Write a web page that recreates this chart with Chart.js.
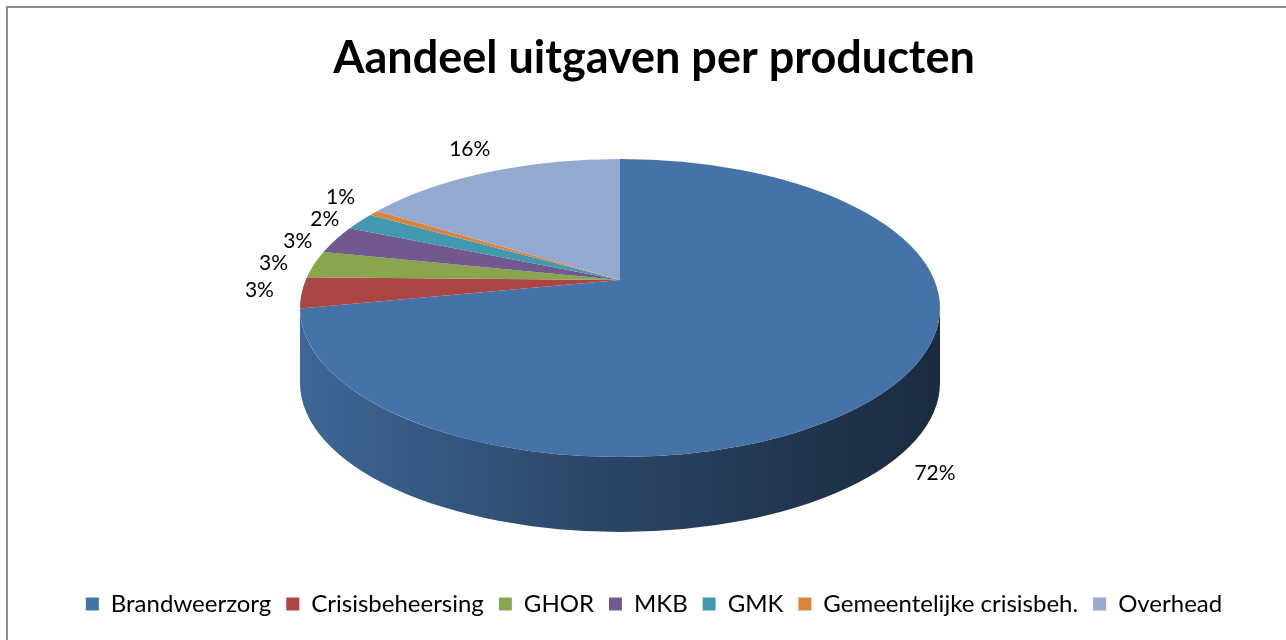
<!DOCTYPE html>
<html>
<head>
<meta charset="utf-8">
<script src="https://cdn.jsdelivr.net/npm/chart.js@4.4.0/dist/chart.umd.min.js"></script>
<style>
  html, body { margin: 0; padding: 0; background: #ffffff; }
  #wrap { width: 1286px; height: 640px; position: relative; }
</style>
</head>
<body>
<div id="wrap"><canvas id="uitgavenChart"></canvas></div>
<script>
const products = ['Brandweerzorg', 'Crisisbeheersing', 'GHOR', 'MKB', 'GMK', 'Gemeentelijke crisisbeh.', 'Overhead'];
const shares = [72.0, 3.3, 2.9, 3.0, 1.9, 0.6, 16.3];
const sliceColors = ['#4572a7', '#aa4643', '#89a54e', '#71588f', '#4198af', '#db843d', '#93a9cf'];

function shade(hex, f) {
    const n = parseInt(hex.slice(1), 16);
    const r = Math.round(((n >> 16) & 255) * f);
    const g = Math.round(((n >> 8) & 255) * f);
    const b = Math.round((n & 255) * f);
    return `rgb(${r},${g},${b})`;
}

// flattened "3D" view of the pie
function geom(chart, o) {
    const arc = chart.getDatasetMeta(0).data[0];
    return {
        ax: arc.x, ay: arc.y,
        cx: arc.x + o.dx, cy: arc.y + o.dy,
        rx: o.rx, ry: o.ry, k: o.ry / o.rx,
        depth: o.depth, apexDy: o.apexDy
    };
}

// ellipse parameter where a slice edge (pie angle) meets the rim
function edgeParam(g, angle) {
    const dx = Math.cos(angle), dy = g.k * Math.sin(angle);
    const A = (dx / g.rx) ** 2 + (dy / g.ry) ** 2;
    const B = 2 * g.apexDy * dy / (g.ry * g.ry);
    const C = (g.apexDy / g.ry) ** 2 - 1;
    const s = (-B + Math.sqrt(B * B - 4 * A * C)) / (2 * A);
    let t = Math.atan2((g.apexDy + dy * s) / g.ry, (dx * s) / g.rx);
    while (t < angle - Math.PI) t += Math.PI * 2;
    while (t > angle + Math.PI) t -= Math.PI * 2;
    return t;
}

const pie3d = {
    id: 'pie3d',
    beforeDraw(chart, args, opts) {
        const ctx = chart.ctx;
        ctx.save();
        ctx.fillStyle = '#ffffff';
        ctx.fillRect(0, 0, chart.width, chart.height);
        ctx.strokeStyle = '#8c8c8c';
        ctx.lineWidth = 2;
        ctx.strokeRect(7, 7, chart.width + 20, chart.height + 20);
        ctx.restore();
    },
    beforeDatasetsDraw(chart, args, opts) {
        const ctx = chart.ctx;
        const arcs = chart.getDatasetMeta(0).data;
        const g = geom(chart, opts);
        // side wall (front half only)
        arcs.forEach(arc => {
            const u1 = Math.max(edgeParam(g, arc.startAngle), 0);
            const u2 = Math.min(edgeParam(g, arc.endAngle), Math.PI);
            if (u2 <= u1) return;
            const base = arc.options.backgroundColor;
            const grad = ctx.createLinearGradient(g.cx - g.rx, 0, g.cx + g.rx, 0);
            grad.addColorStop(0, shade(base, 0.9));
            grad.addColorStop(0.5, shade(base, 0.6));
            grad.addColorStop(1, shade(base, 0.38));
            ctx.beginPath();
            ctx.ellipse(g.cx, g.cy, g.rx, g.ry, 0, u1, u2, false);
            ctx.ellipse(g.cx, g.cy + g.depth, g.rx, g.ry, 0, u2, u1, true);
            ctx.closePath();
            ctx.fillStyle = grad;
            ctx.fill();
        });
        // top face: library arcs, squashed and clipped to the rim
        ctx.save();
        ctx.beginPath();
        ctx.ellipse(g.cx, g.cy, g.rx, g.ry, 0, 0, Math.PI * 2);
        ctx.clip();
        ctx.translate(g.cx, g.cy + g.apexDy);
        ctx.scale(1, g.k);
        ctx.translate(-g.ax, -g.ay);
        arcs.forEach(a => a.draw(ctx));
        ctx.restore();
        return false;
    },
    afterDraw(chart, args, opts) {
        const ctx = chart.ctx;
        const g = geom(chart, opts);
        const total = shares.reduce((s, v) => s + v, 0);
        ctx.save();
        ctx.font = '21px Lato';
        const items = chart.getDatasetMeta(0).data.map((arc, i) => {
            const t = edgeParam(g, (arc.startAngle + arc.endAngle) / 2);
            const c = Math.cos(t), s = Math.sin(t);
            const text = Math.round(shares[i] / total * 100) + '%';
            const w = ctx.measureText(text).width, h = 22;
            const ax = g.cx + g.rx * c;
            const ay = g.cy + g.ry * s + (s > 0 ? Math.min(1, s * 4) * g.depth : 0);
            return { text, w, h, left: c < 0, x: ax + c * (28 + w / 2), y: ay + s * (14 + h / 2) };
        });
        [true, false].forEach(side => {
            const list = items.filter(it => it.left === side).sort((a, b) => a.y - b.y);
            for (let j = 1; j < list.length; j++) {
                const p = list[j - 1], q = list[j];
                if (q.y - p.y < p.h && Math.abs(q.x - p.x) < (p.w + q.w) / 2 + 4) q.y = p.y + p.h;
            }
        });
        ctx.fillStyle = '#000000';
        ctx.textAlign = 'center';
        ctx.textBaseline = 'middle';
        items.forEach(it => ctx.fillText(it.text, it.x, it.y));
        ctx.restore();
    }
};

const ctx = document.getElementById('uitgavenChart').getContext('2d');
const uitgavenChart = new Chart(ctx, {
    type: 'pie',
    data: {
        labels: products,
        datasets: [{
            data: shares,
            backgroundColor: sliceColors,
            borderWidth: 0,
            radius: 400
        }]
    },
    options: {
        responsive: true,
        maintainAspectRatio: false,
        animation: false,
        layout: { padding: { left: 22, right: 0, top: 0, bottom: 14 } },
        plugins: {
            title: {
                display: true,
                text: 'Aandeel uitgaven per producten',
                color: '#000000',
                font: { family: 'Lato', size: 45, weight: 'bold' },
                padding: { top: 31, bottom: 0 }
            },
            legend: {
                display: true,
                position: 'bottom',
                labels: {
                    color: '#000000',
                    boxWidth: 13,
                    boxHeight: 13,
                    padding: 15,
                    font: { family: 'Lato', size: 24 }
                }
            },
            tooltip: { enabled: false },
            pie3d: { dx: -34, dy: -23, rx: 320, ry: 149, depth: 75, apexDy: -28 }
        }
    },
    plugins: [pie3d]
});
</script>
</body>
</html>
